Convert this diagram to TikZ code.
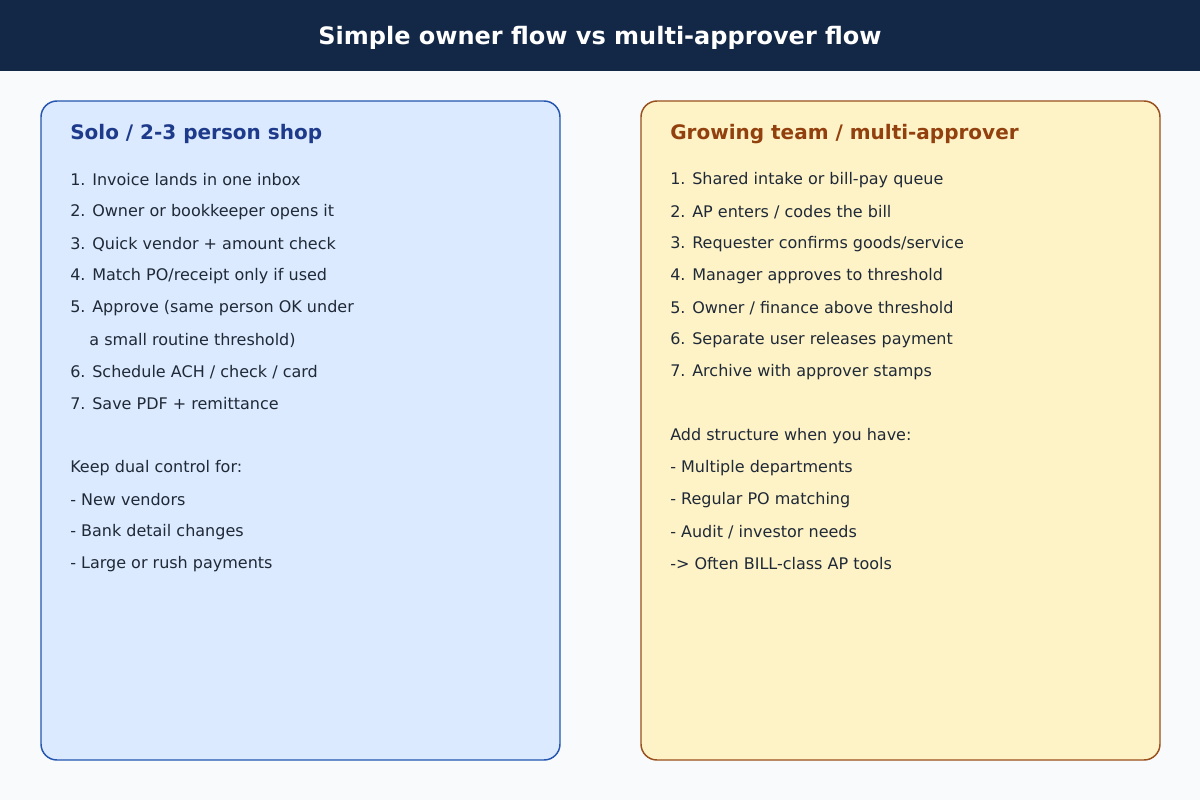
\documentclass[tikz,border=0pt]{standalone}
\usepackage{fontspec}
\setmainfont{DejaVu Sans}
\usepackage{tikz}

\definecolor{bgcol}{HTML}{F8FAFC}
\definecolor{barcol}{HTML}{132847}
\definecolor{soloFill}{HTML}{DBEAFE}
\definecolor{soloLine}{HTML}{2456B0}
\definecolor{soloHead}{HTML}{1E3A8A}
\definecolor{teamFill}{HTML}{FEF3C7}
\definecolor{teamLine}{HTML}{99501C}
\definecolor{teamHead}{HTML}{92400E}
\definecolor{txtcol}{HTML}{1F2937}

\tikzset{
  item/.style={anchor=west, inner sep=0pt, text=txtcol, font=\fontsize{12}{14}\selectfont},
  head/.style={anchor=west, inner sep=0pt, font=\bfseries\fontsize{15}{18}\selectfont},
  panel/.style={rounded corners=12pt, line width=1.1pt}
}

\begin{document}
\begin{tikzpicture}[x=0.75pt,y=0.75pt,yscale=-1,xscale=1]
\useasboundingbox (0,0) rectangle (1200,800);

% background and title bar
\fill [bgcol] (0,0) rectangle (1200,800);
\fill [barcol] (0,0) rectangle (1200,71);
\node (title) [text=white, font=\bfseries\fontsize{18}{22}\selectfont] at (600,38) {Simple owner flow vs multi-approver flow};

% left panel
\draw [panel, draw=soloLine, fill=soloFill] (41,101) rectangle (560,760);
\node (soloHd) [head, text=soloHead] at (70,134) {Solo / 2-3 person shop};
\node (s1) [item] at (70,180) {1. Invoice lands in one inbox};
\node (s2) [item] at (70,212) {2. Owner or bookkeeper opens it};
\node (s3) [item] at (70,244) {3. Quick vendor + amount check};
\node (s4) [item] at (70,276) {4. Match PO/receipt only if used};
\node (s5) [item] at (70,308) {5. Approve (same person OK under};
\node (s5b) [item] at (70,340) {\hspace{1.2em}a small routine threshold)};
\node (s6) [item] at (70,372) {6. Schedule ACH / check / card};
\node (s7) [item] at (70,404) {7. Save PDF + remittance};
\node (sk) [item] at (70,468) {Keep dual control for:};
\node (sk1) [item] at (70,500) {- New vendors};
\node (sk2) [item] at (70,532) {- Bank detail changes};
\node (sk3) [item] at (70,564) {- Large or rush payments};

% right panel
\draw [panel, draw=teamLine, fill=teamFill] (641,101) rectangle (1160,760);
\node (teamHd) [head, text=teamHead] at (670,134) {Growing team / multi-approver};
\node (t1) [item] at (670,180) {1. Shared intake or bill-pay queue};
\node (t2) [item] at (670,212) {2. AP enters / codes the bill};
\node (t3) [item] at (670,244) {3. Requester confirms goods/service};
\node (t4) [item] at (670,276) {4. Manager approves to threshold};
\node (t5) [item] at (670,308) {5. Owner / finance above threshold};
\node (t6) [item] at (670,340) {6. Separate user releases payment};
\node (t7) [item] at (670,372) {7. Archive with approver stamps};
\node (ta) [item] at (670,436) {Add structure when you have:};
\node (ta1) [item] at (670,468) {- Multiple departments};
\node (ta2) [item] at (670,500) {- Regular PO matching};
\node (ta3) [item] at (670,532) {- Audit / investor needs};
\node (ta4) [item] at (670,564) {-> Often BILL-class AP tools};

\end{tikzpicture}
\end{document}
